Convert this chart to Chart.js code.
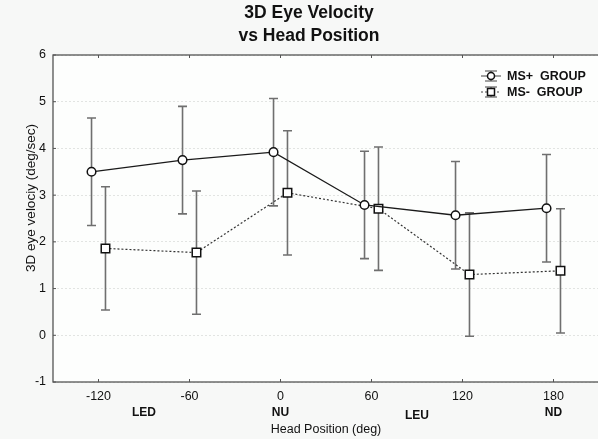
<!DOCTYPE html>
<html lang="en">
<head>
    <meta charset="UTF-8">
    <title>3D Eye Velocity vs Head Position</title>
    <style>
        body {
            margin: 0;
            padding: 0;
            background-color: #f7f8f7;
            overflow: hidden;
        }

        .chart-box {
            width: 600px;
            height: 439px;
        }
    </style>
</head>
<body>

    <div class="chart-box">
        <canvas id="eyeChart" width="600" height="439"></canvas>
    </div>

    <script src="https://cdn.jsdelivr.net/npm/chart.js"></script>

    <script>
        // Head positions (deg) and group means / error half-widths (deg/sec)
        var headPos = [-120, -60, 0, 60, 120, 180];
        var msPlus = [3.50, 3.75, 3.92, 2.79, 2.57, 2.72];
        var msPlusErr = [1.15, 1.15, 1.15, 1.15, 1.15, 1.15];
        var msMinus = [1.86, 1.77, 3.05, 2.71, 1.30, 1.38];
        var msMinusErr = [1.32, 1.32, 1.33, 1.32, 1.32, 1.33];

        // Position names written under the axis
        var posNames = ["LED", "NU", "LEU", "ND"];
        var posNameAt = [-90, 0, 90, 180];

        var groupShift = 4.6; // the two groups are drawn a little apart around each tick
        var txt = '#111';
        var font = 'Arial, "Liberation Sans", sans-serif';

        function points(vals, shift) {
            return headPos.map(function (p, i) { return { x: p + shift, y: vals[i] }; });
        }

        var extras = {
            id: 'extras',
            beforeDraw: function (chart) {
                var a = chart.chartArea, ctx = chart.ctx;
                ctx.save();
                ctx.fillStyle = '#fdfefd';
                ctx.fillRect(a.left, a.top, a.right - a.left, a.bottom - a.top);
                ctx.restore();
            },
            beforeDatasetsDraw: function (chart) {
                var ctx = chart.ctx, xs = chart.scales.x, ys = chart.scales.y;
                var groups = [[msPlus, msPlusErr, -groupShift], [msMinus, msMinusErr, groupShift]];
                ctx.save();
                ctx.strokeStyle = '#6f6f6f';
                ctx.lineWidth = 1.6;
                groups.forEach(function (g) {
                    headPos.forEach(function (p, i) {
                        var x = xs.getPixelForValue(p + g[2]);
                        var yTop = ys.getPixelForValue(g[0][i] + g[1][i]);
                        var yBot = ys.getPixelForValue(g[0][i] - g[1][i]);
                        ctx.beginPath();
                        ctx.moveTo(x, yTop); ctx.lineTo(x, yBot);
                        ctx.moveTo(x - 4.5, yTop); ctx.lineTo(x + 4.5, yTop);
                        ctx.moveTo(x - 4.5, yBot); ctx.lineTo(x + 4.5, yBot);
                        ctx.stroke();
                    });
                });
                ctx.restore();
            },
            afterDraw: function (chart) {
                var ctx = chart.ctx, a = chart.chartArea, xs = chart.scales.x, ys = chart.scales.y;
                ctx.save();

                // frame and small inner ticks
                ctx.strokeStyle = '#555';
                ctx.lineWidth = 1.3;
                ctx.strokeRect(a.left, a.top, a.right - a.left, a.bottom - a.top);
                ctx.lineWidth = 1;
                ctx.beginPath();
                headPos.forEach(function (p) {
                    var x = xs.getPixelForValue(p);
                    ctx.moveTo(x, a.bottom); ctx.lineTo(x, a.bottom - 3);
                    ctx.moveTo(x, a.top); ctx.lineTo(x, a.top + 3);
                });
                for (var v = -1; v <= 6; v++) {
                    var y = ys.getPixelForValue(v);
                    ctx.moveTo(a.left, y); ctx.lineTo(a.left + 3, y);
                }
                ctx.stroke();

                // titles
                ctx.fillStyle = txt;
                ctx.textAlign = 'center';
                ctx.textBaseline = 'middle';
                ctx.font = 'bold 17.5px ' + font;
                ctx.fillText('3D Eye Velocity', 309, 13);
                ctx.fillText('vs Head Position', 309, 36);

                ctx.font = '12.5px ' + font;
                ctx.fillText('Head Position (deg)', (a.left + a.right) / 2, 430);

                ctx.font = 'bold 12px ' + font;
                posNames.forEach(function (n, i) {
                    ctx.fillText(n, xs.getPixelForValue(posNameAt[i]), n === 'LEU' ? 416 : 413);
                });

                ctx.save();
                ctx.translate(31, 198);
                ctx.rotate(-Math.PI / 2);
                ctx.font = '13.5px ' + font;
                ctx.fillText('3D eye velociy (deg/sec)', 0, 0);
                ctx.restore();

                // legend
                var rows = [['MS+  GROUP', 76, 'circle'], ['MS-  GROUP', 92, 'rect']];
                rows.forEach(function (r) {
                    var cx = 491, cy = r[1];
                    ctx.strokeStyle = '#444';
                    ctx.lineWidth = 1;
                    ctx.beginPath();
                    ctx.moveTo(cx - 6, cy - 5); ctx.lineTo(cx + 6, cy - 5);
                    ctx.moveTo(cx - 6, cy + 5); ctx.lineTo(cx + 6, cy + 5);
                    ctx.moveTo(cx, cy - 5); ctx.lineTo(cx, cy + 5);
                    ctx.stroke();
                    ctx.beginPath();
                    if (r[2] === 'rect') ctx.setLineDash([2, 2]);
                    ctx.moveTo(cx - 10, cy); ctx.lineTo(cx + 10, cy);
                    ctx.stroke();
                    ctx.setLineDash([]);
                    ctx.fillStyle = '#fff';
                    ctx.strokeStyle = '#111';
                    ctx.lineWidth = 1.5;
                    ctx.beginPath();
                    if (r[2] === 'circle') ctx.arc(cx, cy, 3.5, 0, Math.PI * 2);
                    else ctx.rect(cx - 3.5, cy - 3.5, 7, 7);
                    ctx.fill();
                    ctx.stroke();
                    ctx.fillStyle = txt;
                    ctx.textAlign = 'left';
                    ctx.font = 'bold 12.5px ' + font;
                    ctx.fillText(r[0], 507, cy + 1);
                });

                ctx.restore();
            }
        };

        var ctx = document.getElementById('eyeChart').getContext('2d');

        var eyeChart = new Chart(ctx, {
            type: 'line',
            data: {
                datasets: [
                    {
                        label: 'MS+ GROUP',
                        data: points(msPlus, -groupShift),
                        borderColor: '#1a1a1a',
                        borderWidth: 1.3,
                        pointStyle: 'circle',
                        pointRadius: 4.3,
                        pointBackgroundColor: '#fff',
                        pointBorderColor: '#111',
                        pointBorderWidth: 1.5,
                        tension: 0
                    },
                    {
                        label: 'MS- GROUP',
                        data: points(msMinus, groupShift),
                        borderColor: '#333',
                        borderWidth: 1.2,
                        borderDash: [2, 2],
                        pointStyle: 'rect',
                        pointRadius: 6,
                        pointBackgroundColor: '#fff',
                        pointBorderColor: '#111',
                        pointBorderWidth: 1.5,
                        tension: 0
                    }
                ]
            },
            options: {
                responsive: false,
                animation: false,
                layout: {
                    autoPadding: false,
                    padding: { top: 55, right: 1, bottom: 0, left: 0 }
                },
                scales: {
                    x: {
                        type: 'linear',
                        min: -150,
                        max: 210,
                        afterBuildTicks: function (s) {
                            s.ticks = headPos.map(function (v) { return { value: v }; });
                        },
                        afterFit: function (s) {
                            s.height = 57;
                            s.paddingLeft = 0;
                            s.paddingRight = 0;
                        },
                        ticks: {
                            color: txt,
                            padding: 7,
                            maxRotation: 0,
                            font: { family: font, size: 12.5 }
                        },
                        grid: { display: false, drawTicks: false },
                        border: { display: false }
                    },
                    y: {
                        min: -1,
                        max: 6,
                        afterFit: function (s) { s.width = 53; },
                        ticks: {
                            stepSize: 1,
                            color: txt,
                            padding: 7,
                            font: { family: font, size: 12.5 }
                        },
                        grid: { color: '#e2e4e2', lineWidth: 1, drawTicks: false },
                        border: { display: false, dash: [2, 2] }
                    }
                },
                plugins: {
                    legend: { display: false },
                    title: { display: false },
                    tooltip: { enabled: false }
                }
            },
            plugins: [extras]
        });
    </script>

</body>
</html>
